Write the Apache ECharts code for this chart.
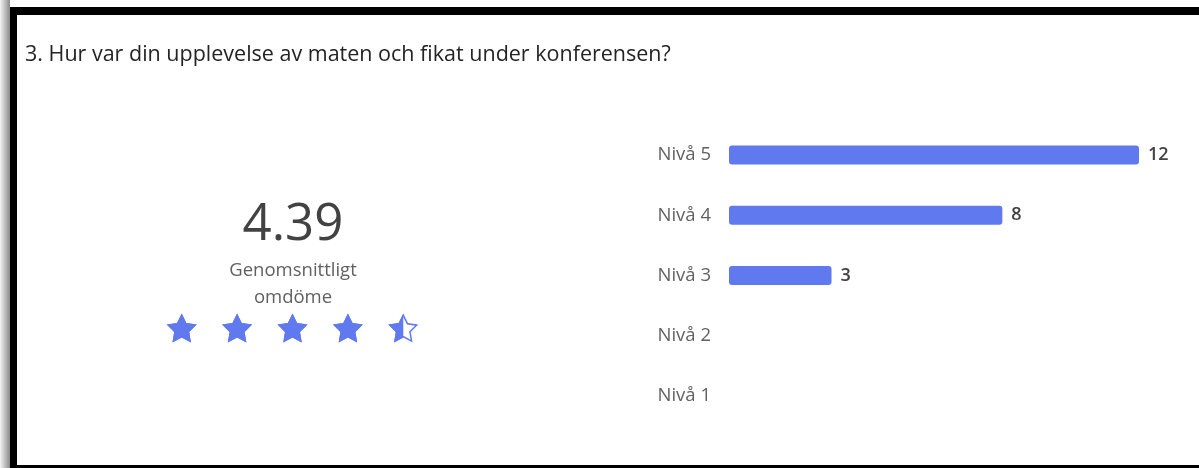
<!DOCTYPE html>
<html>
<head>
<meta charset="utf-8">
<script src="https://cdn.jsdelivr.net/npm/echarts@6/dist/echarts.min.js"></script>
<style>
  html, body { margin: 0; padding: 0; background: #fff; }
  #shade { position: absolute; left: 0; top: 0; width: 10px; height: 468px;
           background: linear-gradient(to right, #f4f4f4, #8a8a8a); }
  #frame { position: absolute; left: 10px; top: 7px; width: 1189px; height: 461px; box-sizing: border-box;
           border-left: 7px solid #000; border-top: 8px solid #000; border-bottom: 3px solid #000; }
  #chart { position: absolute; left: 0; top: 0; width: 1199px; height: 468px; }
</style>
</head>
<body>
<div id="shade"></div>
<div id="frame"></div>
<div id="chart"></div>
<script>
// question + summary
const question = '3. Hur var din upplevelse av maten och fikat under konferensen?';
const averageScore = 4.39;
const averageLabel = ['Genomsnittligt', 'omdöme'];
const maxStars = 5;

// distribution
const levels = ['Nivå 5', 'Nivå 4', 'Nivå 3', 'Nivå 2', 'Nivå 1'];
const counts = [12, 8, 3, 0, 0];

const BLUE = '#6079EE';
const STAR = 'path://M12 0.5 L15.53 7.65 L23.41 8.79 L17.71 14.35 L19.05 22.21 L12 18.5 L4.95 22.21 L6.29 14.35 L0.59 8.79 L8.47 7.65 Z';
// same star with a reversed inner star cut out -> outline drawn as a fill
const STAR_OUTLINE = STAR +
  ' M12 3.14 L9.25 8.72 L3.10 9.61 L7.55 13.94 L6.50 20.07 L12 17.18 L17.50 20.07 L16.45 13.94 L20.90 9.61 L14.75 8.72 Z';
const FONT = '"Open Sans", "Noto Sans", sans-serif';

// Forms shows the stars rounded to halves
const starFill = Math.round(averageScore * 2) / 2;

const chart = echarts.init(document.getElementById('chart'), null, { renderer: 'canvas' });

const starSeries = {
  type: 'pictorialBar',
  xAxisIndex: 1,
  yAxisIndex: 1,
  symbolSize: [30, 29],
  symbolRepeat: true,
  symbolMargin: '12.7!',
  symbolBoundingData: maxStars,
  barGap: '-100%',
  barWidth: 30
};

chart.setOption({
  animation: false,
  textStyle: { fontFamily: FONT },
  title: {
    text: question,
    left: 20,
    top: 39,
    textStyle: { fontSize: 21.5, fontWeight: 'normal', color: '#242424', fontFamily: FONT }
  },
  graphic: [
    {
      type: 'text', x: 293, y: 225,
      style: { text: averageScore.toFixed(2), align: 'center', verticalAlign: 'middle',
               font: '51px ' + FONT, fill: '#424242' }
    },
    {
      type: 'text', x: 293, y: 271,
      style: { text: averageLabel[0], align: 'center', verticalAlign: 'middle',
               font: '18.5px ' + FONT, fill: '#616161' }
    },
    {
      type: 'text', x: 293, y: 298,
      style: { text: averageLabel[1], align: 'center', verticalAlign: 'middle',
               font: '18.5px ' + FONT, fill: '#616161' }
    }
  ],
  grid: [
    { left: 729, width: 410, top: 125, height: 301, containLabel: false },
    { left: 154, width: 277, top: 313, height: 30, containLabel: false }
  ],
  xAxis: [
    { gridIndex: 0, type: 'value', min: 0, max: 12, show: false },
    { gridIndex: 1, type: 'value', min: 0, max: maxStars, show: false }
  ],
  yAxis: [
    {
      gridIndex: 0,
      type: 'category',
      data: levels,
      inverse: true,
      axisLine: { show: false },
      axisTick: { show: false },
      splitLine: { show: false },
      axisLabel: { color: '#616161', fontSize: 18.5, margin: 18, fontFamily: FONT }
    },
    { gridIndex: 1, type: 'category', data: ['stars'], show: false }
  ],
  series: [
    {
      type: 'bar',
      xAxisIndex: 0,
      yAxisIndex: 0,
      data: counts,
      barWidth: 19,
      itemStyle: { color: BLUE, borderRadius: 3 },
      label: {
        show: true,
        position: 'right',
        distance: 9,
        color: '#424242',
        fontSize: 18,
        fontWeight: 600,
        fontFamily: FONT,
        formatter: (p) => (p.value ? String(p.value) : '')
      }
    },
    Object.assign({}, starSeries, {
      data: [maxStars],
      symbol: STAR_OUTLINE,
      itemStyle: { color: BLUE },
      z: 1
    }),
    Object.assign({}, starSeries, {
      data: [starFill],
      symbol: STAR,
      symbolClip: true,
      itemStyle: { color: BLUE },
      z: 2
    })
  ]
});
</script>
</body>
</html>
